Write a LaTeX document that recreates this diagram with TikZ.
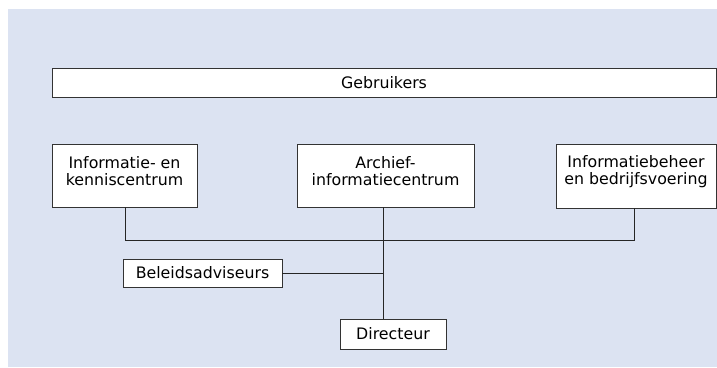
\documentclass[tikz,border=0pt]{standalone}
\usepackage{fontspec}
\setmainfont{DejaVu Sans}
\begin{document}
\begin{tikzpicture}[x=1pt,y=-1pt,
  box/.style={draw=black!80,line width=0.9pt,fill=white,inner sep=0pt,align=center,font=\fontsize{15.8}{17.5}\selectfont},
  conn/.style={draw=black!85,line width=0.8pt},
  lbl/.style={align=center,inner sep=0pt,font=\fontsize{15.8}{17.5}\selectfont}]
\useasboundingbox (0,0) rectangle (717,367);
\fill[fill={rgb,255:red,220;green,227;blue,242}] (8,9) rectangle (717,367);
\node[box,minimum width=664pt,minimum height=29pt] (geb) at (384,83) {Gebruikers};
\node[box,minimum width=145pt,minimum height=63pt] (iek) at (124.5,175.5) {};
\node[lbl] (iekt) at (124.5,171) {Informatie- en\\kenniscentrum};
\node[box,minimum width=177pt,minimum height=63pt] (aic) at (385.5,175.5) {};
\node[lbl] (aict) at (385.5,171) {Archief-\\informatiecentrum};
\node[box,minimum width=160pt,minimum height=64pt] (ibb) at (636,176) {};
\node[lbl] (ibbt) at (636,171.5) {Informatiebeheer\\en bedrijfsvoering};
\node[box,minimum width=159pt,minimum height=28pt] (bel) at (202.5,273) {Beleidsadviseurs};
\node[box,minimum width=106pt,minimum height=30pt] (dir) at (393,334) {Directeur};
\coordinate (busL) at (125,240);
\coordinate (busM) at (383,240);
\coordinate (busR) at (634,240);
\draw[conn] (iek.south -| busL) -- (busL) -- (busR) -- (ibb.south -| busR);
\draw[conn] (aic.south -| busM) -- (dir.north -| busM);
\draw[conn] (bel.east) -- (bel.east -| busM);
\end{tikzpicture}
\end{document}
